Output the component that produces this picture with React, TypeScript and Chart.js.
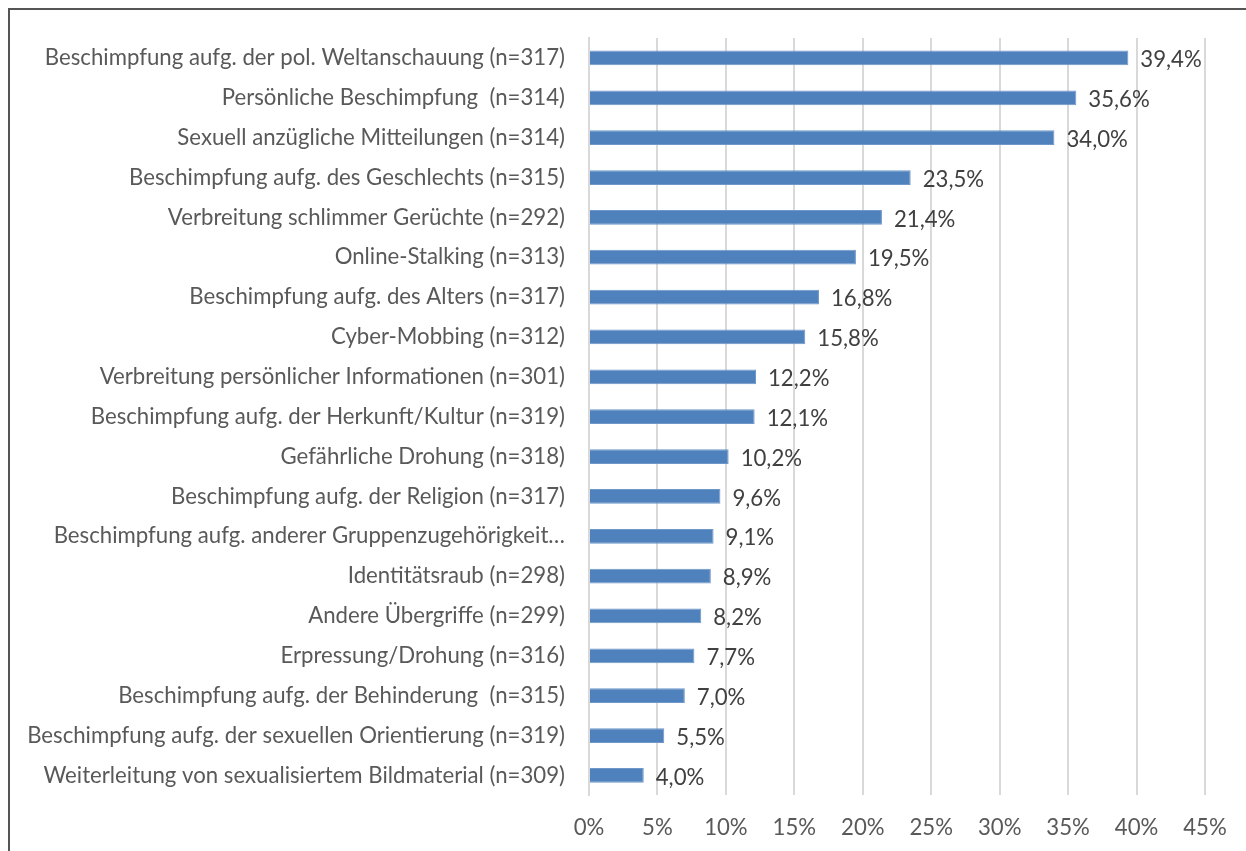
import React, { useEffect, useRef } from "react";
import { Chart, registerables } from "chart.js";

Chart.register(...registerables);

const categories: string[] = [
  "Beschimpfung aufg. der pol. Weltanschauung (n=317)",
  "Persönliche Beschimpfung  (n=314)",
  "Sexuell anzügliche Mitteilungen (n=314)",
  "Beschimpfung aufg. des Geschlechts (n=315)",
  "Verbreitung schlimmer Gerüchte (n=292)",
  "Online-Stalking (n=313)",
  "Beschimpfung aufg. des Alters (n=317)",
  "Cyber-Mobbing (n=312)",
  "Verbreitung persönlicher Informationen (n=301)",
  "Beschimpfung aufg. der Herkunft/Kultur (n=319)",
  "Gefährliche Drohung (n=318)",
  "Beschimpfung aufg. der Religion (n=317)",
  "Beschimpfung aufg. anderer Gruppenzugehörigkeit…",
  "Identitätsraub (n=298)",
  "Andere Übergriffe (n=299)",
  "Erpressung/Drohung (n=316)",
  "Beschimpfung aufg. der Behinderung  (n=315)",
  "Beschimpfung aufg. der sexuellen Orientierung (n=319)",
  "Weiterleitung von sexualisiertem Bildmaterial (n=309)",
];

const values: number[] = [
  39.4, 35.6, 34.0, 23.5, 21.4, 19.5, 16.8, 15.8, 12.2, 12.1, 10.2, 9.6, 9.1, 8.9,
  8.2, 7.7, 7.0, 5.5, 4.0,
];

const xTickMax = 45;
const xTickStep = 5;

const FONT = "Lato, sans-serif";
const FSIZE = 22.2;

const fmt = (v: number) => v.toFixed(1).replace(".", ",") + "%";

const dataLabelPlugin = {
  id: "dataLabels",
  afterDatasetsDraw(chart: any) {
    const ctx = chart.ctx;
    const meta = chart.getDatasetMeta(0);
    ctx.save();
    ctx.font = `${FSIZE}px ${FONT}`;
    ctx.fillStyle = "#404040";
    ctx.textAlign = "left";
    ctx.textBaseline = "middle";
    meta.data.forEach((el: any, i: number) => {
      ctx.fillText(fmt(values[i]), el.x + 12, el.y + 2);
    });
    ctx.restore();
  },
};

const framePlugin = {
  id: "frame",
  beforeDraw(chart: any) {
    const ctx = chart.ctx;
    ctx.save();
    ctx.fillStyle = "#ffffff";
    ctx.fillRect(0, 0, chart.width, chart.height);
    ctx.strokeStyle = "#555555";
    ctx.lineWidth = 2;
    ctx.beginPath();
    ctx.moveTo(chart.width + 5, 9);
    ctx.lineTo(9, 9);
    ctx.lineTo(9, chart.height + 5);
    ctx.stroke();
    ctx.restore();
  },
};

export default function App() {
  const ref = useRef<HTMLCanvasElement>(null);
  useEffect(() => {
    if (!ref.current) return;
    const chart = new Chart(ref.current, {
      type: "bar",
      data: {
        labels: categories,
        datasets: [
          {
            data: values,
            backgroundColor: "#4f81bd",
            borderColor: "#6f97c9",
            borderWidth: 1,
            barPercentage: 0.37,
            categoryPercentage: 1,
          },
        ],
      },
      options: {
        indexAxis: "y",
        animation: false,
        responsive: false,
        layout: { padding: { top: 38, right: 41, bottom: -9, left: 0 } },
        plugins: { legend: { display: false }, tooltip: { enabled: false } },
        scales: {
          x: {
            min: 0,
            max: xTickMax,
            ticks: {
              stepSize: xTickStep,
              callback: (v: any) => v + "%",
              color: "#595959",
              font: { family: FONT, size: FSIZE },
              padding: 19,
            },
            grid: { color: "#d9d9d9", lineWidth: 2, drawTicks: false },
            border: { display: false },
          },
          y: {
            ticks: {
              color: "#595959",
              font: { family: FONT, size: FSIZE },
              padding: 24,
              autoSkip: false,
            },
            grid: { display: false, drawTicks: false },
            border: { display: true, color: "#d9d9d9", width: 2 },
            afterFit: (scale: any) => {
              scale.width = 589;
            },
          },
        },
      },
      plugins: [framePlugin, dataLabelPlugin],
    });
    return () => chart.destroy();
  }, []);
  return (
    <canvas
      ref={ref}
      width={1246}
      height={851}
      style={{ position: "fixed", left: 0, top: 0, width: 1246, height: 851 }}
    />
  );
}
